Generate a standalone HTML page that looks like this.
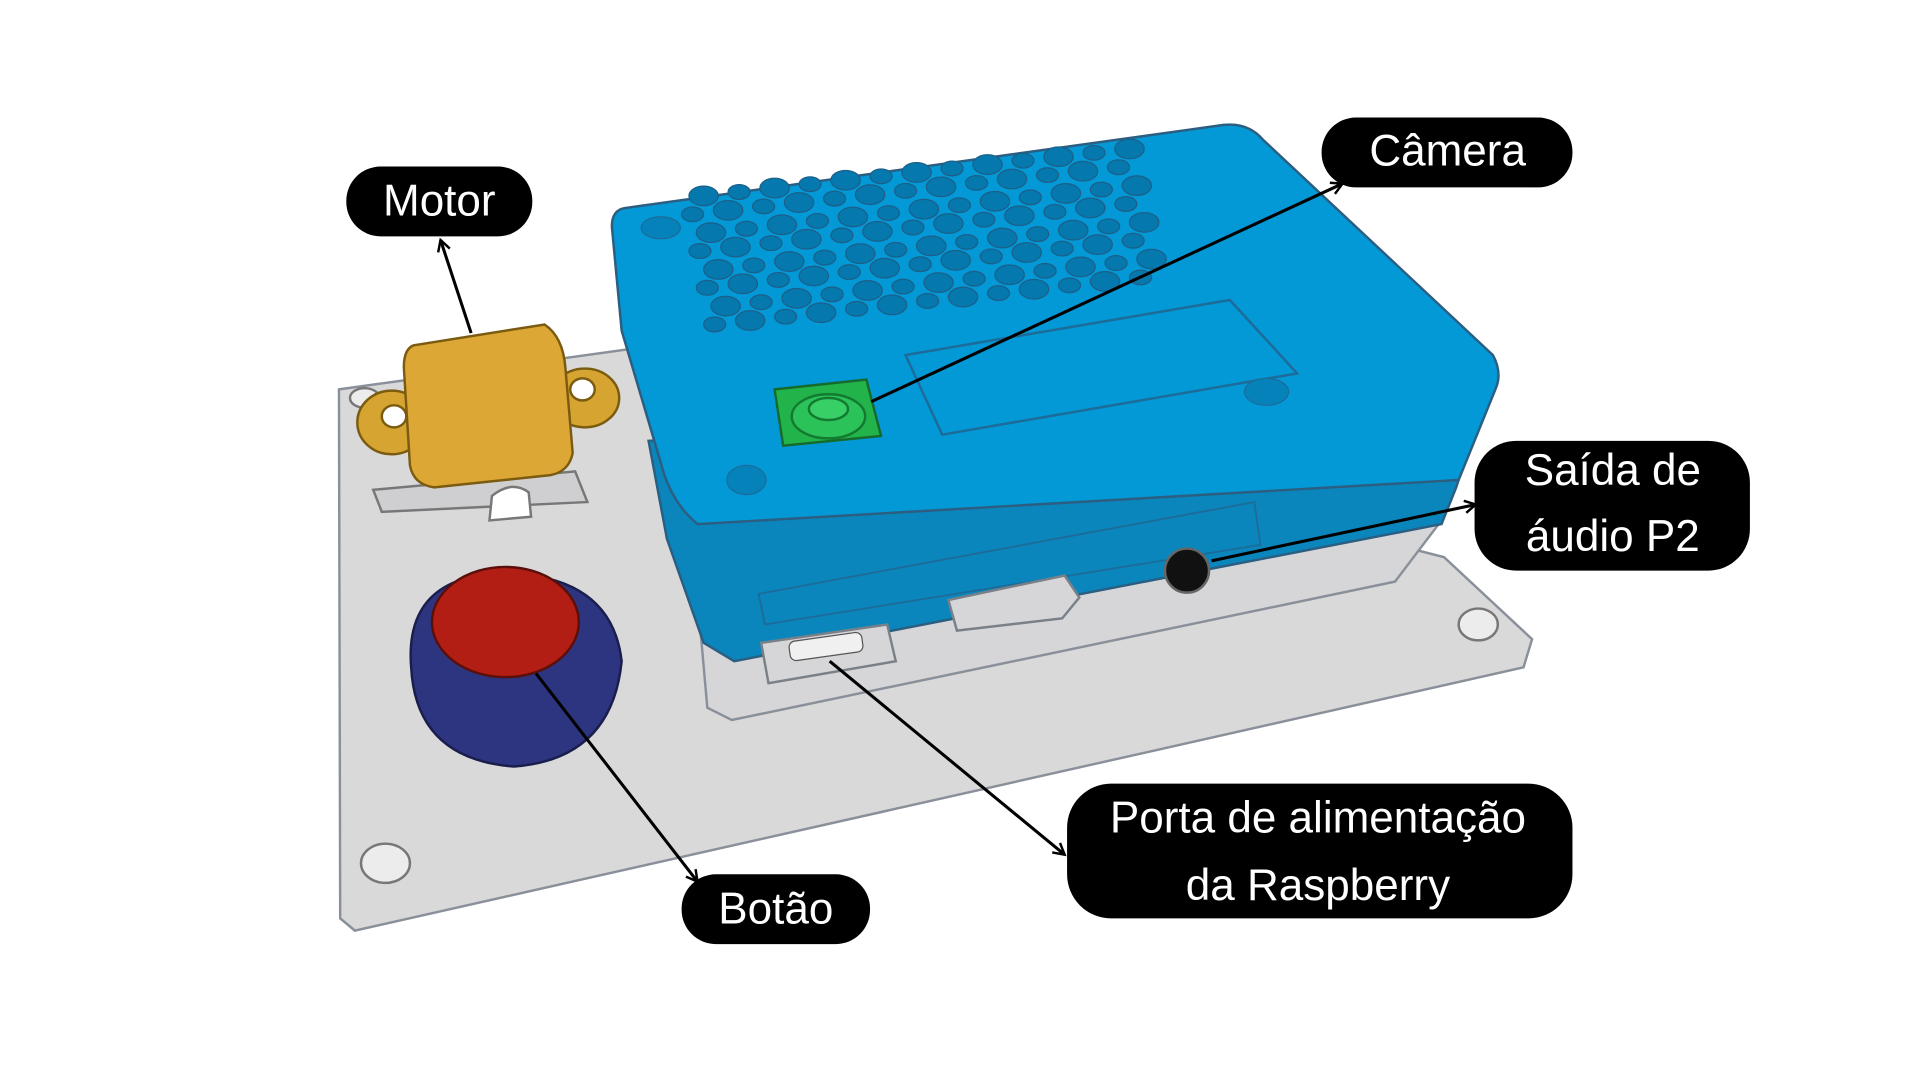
<!DOCTYPE html>
<html><head><meta charset="utf-8"><style>
html,body{margin:0;padding:0;background:#fff;width:1920px;height:1080px;overflow:hidden}
svg{display:block}
.lbl{font-family:"Liberation Sans",sans-serif;font-size:36px;fill:#fff;text-anchor:middle}
</style></head><body>
<svg width="1920" height="1080" viewBox="0 0 1569 882" preserveAspectRatio="none" xmlns="http://www.w3.org/2000/svg">
<defs>
<marker id="ah" markerWidth="12" markerHeight="12" refX="10" refY="6" orient="auto" markerUnits="userSpaceOnUse">
<path d="M1,1 L10,6 L1,11" fill="none" stroke="#000" stroke-width="2"/></marker>
</defs>
<rect width="1569" height="882" fill="#fff"/>
<polygon points="277,318 515,285 1180,455 1252,522 1245,545 290,760 278,750" fill="#d9d9d9" stroke="#8a909a" stroke-width="2"/>
<ellipse cx="315" cy="705" rx="20" ry="16" fill="#ececec" stroke="#777" stroke-width="2"/>
<ellipse cx="1208" cy="510" rx="16" ry="13" fill="#ececec" stroke="#777" stroke-width="2"/>
<ellipse cx="298" cy="325" rx="12" ry="8" fill="#ececec" stroke="#777" stroke-width="2"/>
<polygon points="572,510 1178,425 1140,475 598,588 578,578" fill="#d6d6d8" stroke="#8a909a" stroke-width="2"/>
<polygon points="530,360 1215,320 1190,398 1178,428 600,540 575,525 545,440" fill="#0a86bd" stroke="#2b5e80" stroke-width="2"/>
<path d="M510,170 L1000,102 Q1020,100 1032,114 L1220,290 Q1228,305 1222,318 L1192,392 L570,428 Q548,410 540,378 L508,270 L500,185 Q500,172 510,170 Z" fill="#0398d6" stroke="#2b5e80" stroke-width="2"/>
<polygon points="620,485 1025,410 1030,445 625,510" fill="none" stroke="#1d6b98" stroke-width="1.5"/>
<g id="holes"></g>
<polygon points="740,290 1005,245 1060,305 770,355" fill="none" stroke="#1d6b98" stroke-width="2"/>
<ellipse cx="1035" cy="320" rx="18" ry="11" fill="#0682bb" stroke="#1d6b98"/>
<ellipse cx="610" cy="392" rx="16" ry="12" fill="#0682bb" stroke="#1d6b98"/>
<ellipse cx="540" cy="186" rx="16" ry="9" fill="#0682bb" stroke="#1d6b98"/>
<polygon points="633,318 708,310 720,356 640,364" fill="#22b44a" stroke="#156b2b" stroke-width="2"/>
<ellipse cx="677" cy="340" rx="30" ry="18" fill="#2cc25a" stroke="#137a30" stroke-width="2"/>
<ellipse cx="677" cy="334" rx="16" ry="9" fill="#38cf67" stroke="#137a30" stroke-width="2"/>
<path d="M775,490 L870,470 L882,488 L868,505 L782,515 Z" fill="#d6d6d8" stroke="#7a8088" stroke-width="2"/>
<path d="M622,525 L725,510 L732,540 L628,558 Z" fill="#d6d6d8" stroke="#7a8088" stroke-width="2"/>
<rect x="645" y="520" width="60" height="16" rx="5" fill="#f0f0f0" stroke="#555" transform="rotate(-8 675 528)"/>
<circle cx="970" cy="466" r="18" fill="#111" stroke="#666" stroke-width="2"/>
<g>
<path d="M305,400 L470,385 L480,410 L312,418 Z" fill="#cfcfd2" stroke="#777" stroke-width="2"/>
<ellipse cx="320" cy="345" rx="28" ry="26" fill="#d6a531" stroke="#7a5b10" stroke-width="2"/>
<ellipse cx="322" cy="340" rx="10" ry="9" fill="#fff" stroke="#7a5b10" stroke-width="2"/>
<ellipse cx="478" cy="325" rx="28" ry="24" fill="#d6a531" stroke="#7a5b10" stroke-width="2"/>
<ellipse cx="476" cy="318" rx="10" ry="9" fill="#fff" stroke="#7a5b10" stroke-width="2"/>
<path d="M338,282 L445,265 Q460,275 462,300 L468,370 Q465,385 450,388 L355,398 Q338,396 335,380 L330,300 Q330,285 338,282 Z" fill="#dca734" stroke="#7a5b10" stroke-width="2"/>
<path d="M400,425 L402,405 Q418,392 432,402 L434,422 Z" fill="#fff" stroke="#777" stroke-width="2"/>
</g>
<g>
<path d="M336,545 Q330,470 412,468 Q500,470 508,540 Q500,620 420,626 Q340,620 336,545 Z" fill="#2e3580" stroke="#1a1e4d" stroke-width="2"/>
<ellipse cx="413" cy="508" rx="60" ry="45" fill="#b31e14" stroke="#5a0f0a" stroke-width="2"/>
</g>
<g stroke="#000" stroke-width="2.5" fill="none">
<line x1="385" y1="272" x2="360" y2="196" marker-end="url(#ah)"/>
<line x1="712" y1="328" x2="1097" y2="150" marker-end="url(#ah)"/>
<line x1="990" y1="458" x2="1206" y2="412" marker-end="url(#ah)"/>
<line x1="678" y1="540" x2="870" y2="698" marker-end="url(#ah)"/>
<line x1="438" y1="550" x2="570" y2="720" marker-end="url(#ah)"/>
</g>
<g><rect x="283" y="136" width="152" height="57" rx="28" fill="#000"/><text class="lbl" x="359" y="176">Motor</text></g>
<g><rect x="1080" y="96" width="205" height="57" rx="28" fill="#000"/><text class="lbl" x="1183" y="135">Câmera</text></g>
<g><rect x="1205" y="360" width="225" height="106" rx="34" fill="#000"/><text class="lbl" x="1318" y="396">Saída de</text><text class="lbl" x="1318" y="450">áudio P2</text></g>
<g><rect x="872" y="640" width="413" height="110" rx="36" fill="#000"/><text class="lbl" x="1077" y="680">Porta de alimentação</text><text class="lbl" x="1077" y="735">da Raspberry</text></g>
<g><rect x="557" y="714" width="154" height="57" rx="28" fill="#000"/><text class="lbl" x="634" y="754">Botão</text></g>
</svg>
<script>
var g=document.getElementById('holes');
for(var r=0;r<8;r++){for(var c=0;c<13;c++){
  var x=575+c*29+r*3 - (r%2)*12, y=160+r*15 - c*3.2;
  if(x>960) continue;
  var e=document.createElementNS('http://www.w3.org/2000/svg','ellipse');
  
  
  e.setAttribute('cx',x);e.setAttribute('cy',y);
  e.setAttribute('rx',(c+r)%2?9:12);e.setAttribute('ry',(c+r)%2?6:8);
  e.setAttribute('fill','#0578ad');e.setAttribute('stroke','#1d5f88');
  g.appendChild(e);
}}
</script>
</body></html>
